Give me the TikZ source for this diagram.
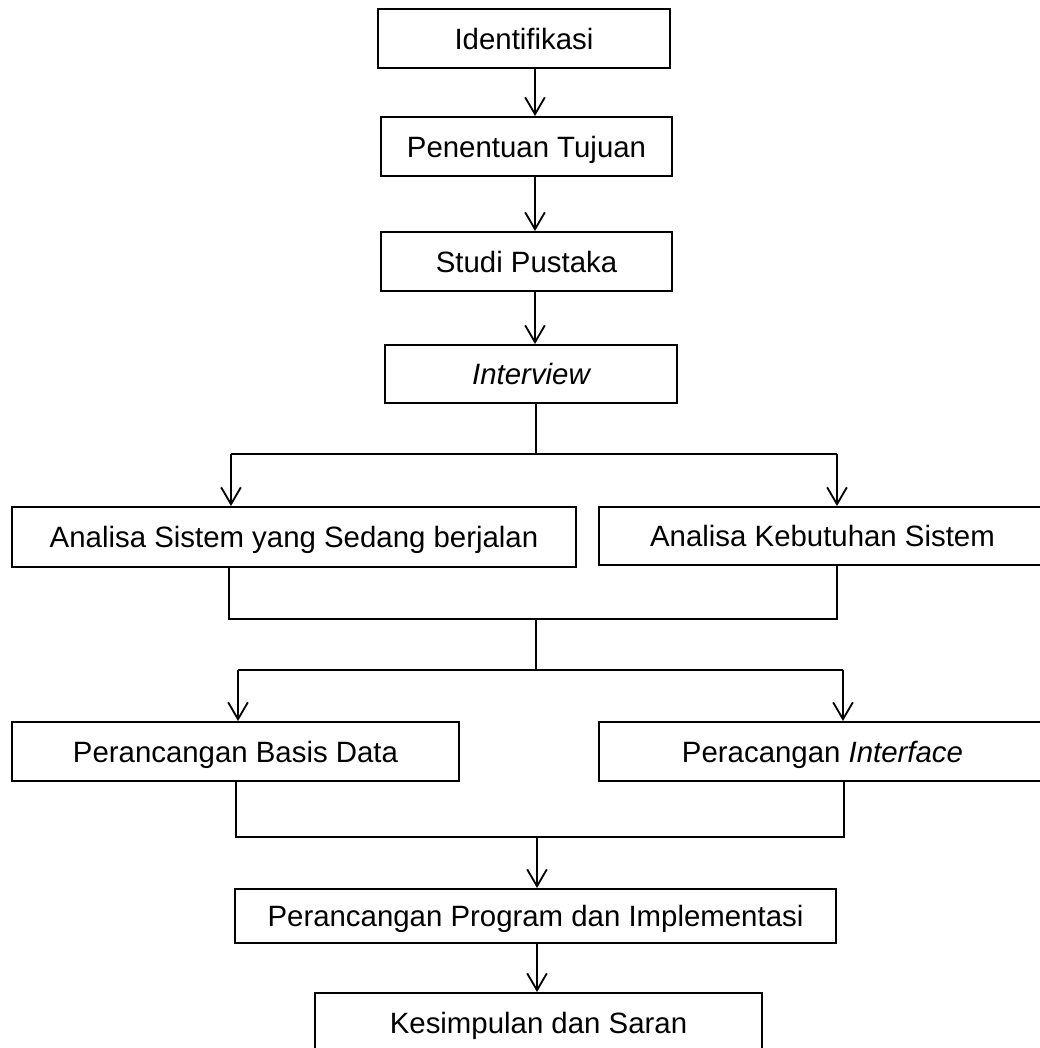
\documentclass[tikz,border=0pt]{standalone}
\usepackage{fontspec}
\setmainfont{Liberation Sans}
\usetikzlibrary{arrows.meta}
\tikzset{kotak/.style={draw, line width=1.4pt, inner sep=0pt, text height=15pt, text depth=0pt, font=\fontsize{20.9}{25}\selectfont}}

\begin{document}
\begin{tikzpicture}[x=0.025cm,y=-0.025cm,>={Straight Barb[length=12pt,width=14pt]},
  panah/.style={->, line width=1.3pt}, garis/.style={line width=0.95pt}]
\path[use as bounding box, clip] (0,0) rectangle (1040,1048);
\node[kotak, minimum width=7.3cm, minimum height=1.475cm] (A) at (524,38.5) {Identifikasi};
\node[kotak, minimum width=7.275cm, minimum height=1.475cm] (B) at (526.5,146.5) {Penentuan Tujuan};
\node[kotak, minimum width=7.275cm, minimum height=1.475cm] (C) at (526.5,261.5) {Studi Pustaka};
\node[kotak, minimum width=7.3cm, minimum height=1.45cm] (D) at (531,374) {\itshape Interview};
\node[kotak, minimum width=14.1cm, minimum height=1.5cm] (E) at (294,537) {Analisa Sistem yang Sedang berjalan};
\node[kotak, minimum width=11.175cm, minimum height=1.45cm] (F) at (822.5,536) {Analisa Kebutuhan Sistem};
\node[kotak, minimum width=11.175cm, minimum height=1.475cm] (G) at (235.5,751.5) {Perancangan Basis Data};
\node[kotak, minimum width=11.175cm, minimum height=1.475cm] (H) at (822.5,751.5) {Peracangan \textit{Interface}};
\node[kotak, minimum width=15.025cm, minimum height=1.35cm] (I) at (535.5,916) {Perancangan Program dan Implementasi};
\node[kotak, minimum width=11.175cm, minimum height=1.475cm] (J) at (538.5,1022.5) {Kesimpulan dan Saran};
\coordinate (X) at (535,0);
\coordinate (K) at (536,454);
\coordinate (K1) at (231,454);
\coordinate (K2) at (837,454);
\coordinate (L) at (536,619);
\coordinate (L1) at (229,619);
\coordinate (L2) at (837,619);
\coordinate (M) at (536,670);
\coordinate (M1) at (238,670);
\coordinate (M2) at (843,670);
\coordinate (N) at (537,837);
\coordinate (N1) at (236,837);
\coordinate (N2) at (844,837);
\draw[panah] (A.south -| X) -- (B.north -| X);
\draw[panah] (B.south -| X) -- (C.north -| X);
\draw[panah] (C.south -| X) -- (D.north -| X);
\draw[garis] (D.south -| K) -- (K);
\draw[garis] (K1) -- (K2);
\draw[panah] (K1) -- (K1 |- E.north);
\draw[panah] (K2) -- (K2 |- F.north);
\draw[garis] (E.south -| L1) -- (L1) -- (L2) -- (F.south -| L2);
\draw[garis] (L) -- (M);
\draw[garis] (M1) -- (M2);
\draw[panah] (M1) -- (M1 |- G.north);
\draw[panah] (M2) -- (M2 |- H.north);
\draw[garis] (G.south -| N1) -- (N1) -- (N2) -- (H.south -| N2);
\draw[panah] (N) -- (N |- I.north);
\draw[panah] (I.south -| N) -- (J.north -| N);
\end{tikzpicture}
\end{document}
